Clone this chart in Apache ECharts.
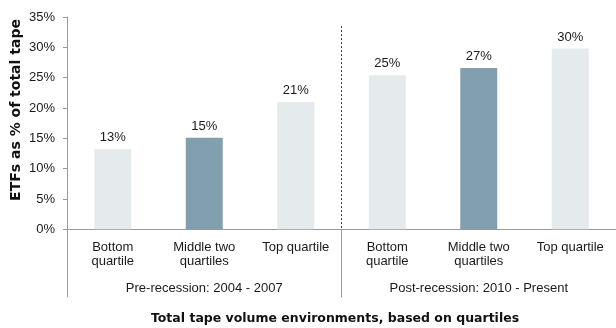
<!DOCTYPE html>
<html>
<head>
<meta charset="utf-8">
<script src="https://cdn.jsdelivr.net/npm/echarts@6/dist/echarts.min.js"></script>
<style>
  html, body { margin: 0; padding: 0; background: #fff; }
  #chart { width: 616px; height: 328px; }
</style>
</head>
<body>
<div id="chart"></div>
<script>
// Quartile buckets within each period
const categories = ['Bottom\nquartile', 'Middle two\nquartiles', 'Top quartile',
                    'Bottom\nquartile', 'Middle two\nquartiles', 'Top quartile'];
// Period groups spanning three buckets each
const periods = ['Pre-recession: 2004 - 2007', 'Post-recession: 2010 - Present'];
// ETF share of total tape volume (%)
const etfShare = [13.2, 15.1, 21.0, 25.4, 26.6, 29.8];
// Value-axis ticks
const yMin = 0, yMax = 35, yStep = 5;
// Period divider position (in bucket units) and its top end (%)
const dividerAt = 3;
const dividerTop = 33.5;

const LIGHT = '#e5eaed';
const DARK = '#829fb0';
const TEXT = '#1a1a1a';
const AXIS = '#9a9a9a';
const FONT = 'Liberation Sans, Arial, sans-serif';

const chart = echarts.init(document.getElementById('chart'), null, { renderer: 'canvas' });

chart.setOption({
  animation: false,
  grid: { left: 67, top: 17, width: 553, height: 212.3, containLabel: false },
  xAxis: [
    {
      type: 'category',
      data: categories,
      position: 'bottom',
      axisLine: { show: true, lineStyle: { color: AXIS, width: 1 } },
      axisTick: { show: false },
      axisLabel: {
        interval: 0, margin: 11, color: TEXT, fontSize: 13, lineHeight: 14,
        fontFamily: FONT
      },
      splitLine: { show: false }
    },
    {
      type: 'category',
      data: periods,
      position: 'bottom',
      axisLine: { show: false },
      axisTick: { show: true, length: 68, alignWithLabel: false, lineStyle: { color: AXIS, width: 1 } },
      axisLabel: { interval: 0, margin: 52, color: TEXT, fontSize: 13, lineHeight: 14, fontFamily: FONT },
      splitLine: { show: false }
    },
    {
      type: 'value',
      show: false,
      position: 'top',
      min: 0,
      max: categories.length
    }
  ],
  yAxis: {
    type: 'value',
    min: yMin, max: yMax, interval: yStep,
    axisLine: { show: true, lineStyle: { color: AXIS, width: 1 } },
    axisTick: { show: true, length: 4, lineStyle: { color: AXIS } },
    axisLabel: { margin: 12, color: TEXT, fontSize: 13, fontFamily: FONT, formatter: v => v + '%' },
    splitLine: { show: false }
  },
  series: [
    {
      type: 'bar',
      xAxisIndex: 0,
      data: etfShare,
      barWidth: 37,
      itemStyle: { color: p => (p.dataIndex % 3 === 1 ? DARK : LIGHT) },
      label: {
        show: true, position: 'top', distance: 5, color: TEXT, fontSize: 13,
        fontFamily: FONT, formatter: p => Math.round(p.value) + '%'
      }
    },
    {
      type: 'scatter',
      xAxisIndex: 2,
      data: [],
      silent: true,
      markLine: {
        silent: true,
        symbol: 'none',
        label: { show: false },
        lineStyle: { type: [2, 2], color: '#333', width: 1 },
        data: [[{ coord: [dividerAt, dividerTop] }, { coord: [dividerAt, 0] }]]
      }
    }
  ],
  graphic: [
    {
      type: 'text',
      x: 16, y: 110,
      rotation: Math.PI / 2,
      style: {
        text: 'ETFs as % of total tape',
        fill: '#111',
        font: 'bold 14px "DejaVu Sans", sans-serif',
        textAlign: 'center',
        textVerticalAlign: 'middle'
      }
    },
    {
      type: 'text',
      x: 335, y: 319,
      style: {
        text: 'Total tape volume environments, based on quartiles',
        fill: '#111',
        font: 'bold 12.5px "DejaVu Sans", sans-serif',
        textAlign: 'center',
        textVerticalAlign: 'middle'
      }
    }
  ]
});
</script>
</body>
</html>
